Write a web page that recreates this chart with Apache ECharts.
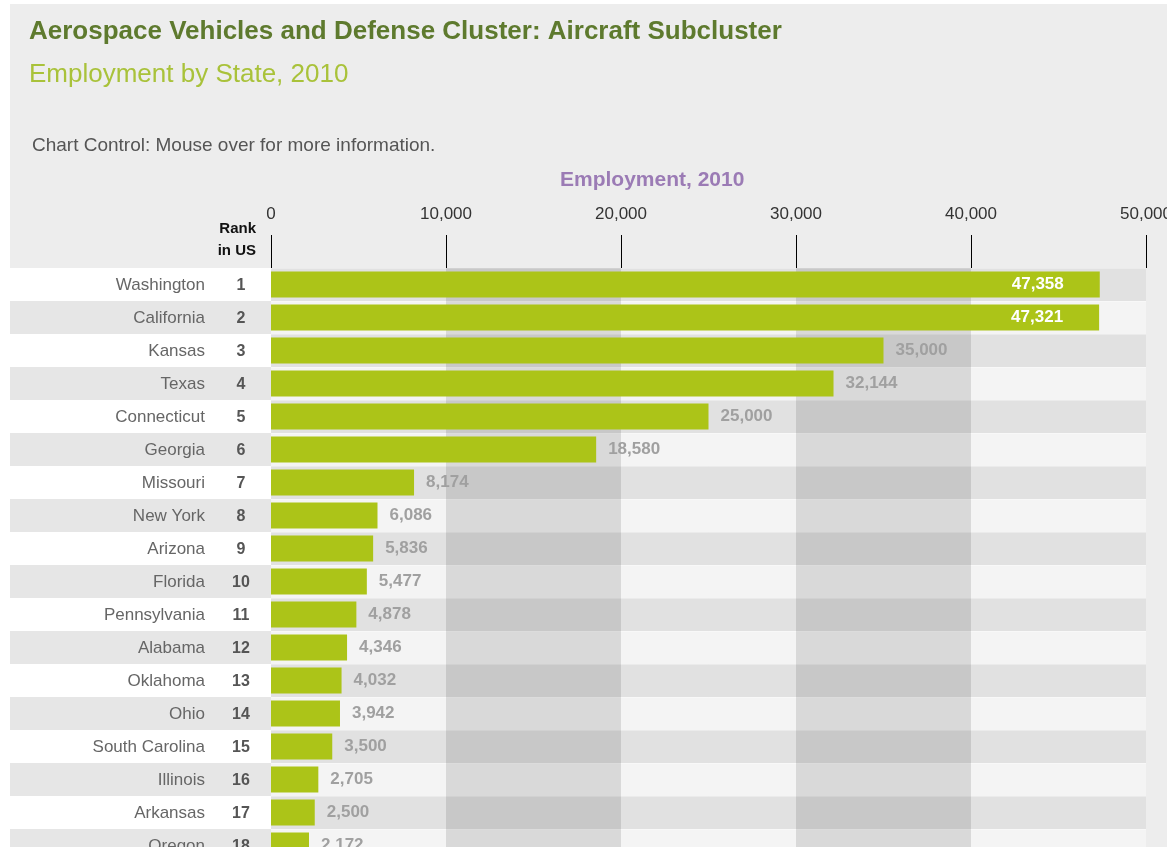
<!DOCTYPE html>
<html>
<head>
<meta charset="utf-8">
<title>Aircraft Subcluster Employment by State, 2010</title>
<script src="https://cdn.jsdelivr.net/npm/echarts@6/dist/echarts.min.js"></script>
<style>
  html, body { margin: 0; padding: 0; background: #ffffff; }
  #chart { width: 1167px; height: 847px; }
</style>
</head>
<body>
<div id="chart"></div>
<script>
// States ranked by aircraft subcluster employment, 2010
const states = [
  'Washington', 'California', 'Kansas', 'Texas', 'Connecticut', 'Georgia',
  'Missouri', 'New York', 'Arizona', 'Florida', 'Pennsylvania', 'Alabama',
  'Oklahoma', 'Ohio', 'South Carolina', 'Illinois', 'Arkansas', 'Oregon'
];
const ranks = [1, 2, 3, 4, 5, 6, 7, 8, 9, 10, 11, 12, 13, 14, 15, 16, 17, 18];
const employment = [
  47358, 47321, 35000, 32144, 25000, 18580,
  8174, 6086, 5836, 5477, 4878, 4346,
  4032, 3942, 3500, 2705, 2500, 2172
];
const axisTicks = [0, 10000, 20000, 30000, 40000, 50000];

const FONT = '"Liberation Sans", Arial, Helvetica, sans-serif';
const ROW_H = 33;
const TOP = 268;

function withCommas(n) {
  return String(n).replace(/\B(?=(\d{3})+(?!\d))/g, ',');
}

// Long bars carry their value inside the bar end, the rest just past it
const barData = employment.map(v => {
  const inside = v >= 40000;
  return {
    value: v,
    label: inside
      ? { position: 'insideRight', distance: 36, color: '#ffffff' }
      : { position: 'right', distance: 12, color: '#a0a0a0' }
  };
});

const chart = echarts.init(document.getElementById('chart'), null, { renderer: 'canvas' });

chart.setOption({
  animation: false,
  backgroundColor: '#ffffff',
  textStyle: { fontFamily: FONT },
  title: [
    {
      text: 'Aerospace Vehicles and Defense Cluster: Aircraft Subcluster',
      left: 24, top: 14,
      textStyle: { fontFamily: FONT, fontSize: 26, fontWeight: 'bold', color: '#5e7a2e' }
    },
    {
      text: 'Employment by State, 2010',
      left: 24, top: 57,
      textStyle: { fontFamily: FONT, fontSize: 26, fontWeight: 'normal', color: '#a9c23a' }
    },
    {
      text: 'Chart Control: Mouse over for more information.',
      left: 27, top: 131,
      textStyle: { fontFamily: FONT, fontSize: 19, fontWeight: 'normal', color: '#555555' }
    },
    {
      text: 'Employment, 2010',
      left: 555, top: 165,
      textStyle: { fontFamily: FONT, fontSize: 21, fontWeight: 'bold', color: '#9b7bb5' }
    }
  ],
  graphic: [
    {
      type: 'rect', z: -10, silent: true,
      shape: { x: 10, y: 4, width: 1157, height: 843 },
      style: { fill: '#ededed' }
    },
    {
      type: 'text', silent: true,
      x: 256, y: 218,
      style: {
        text: 'Rank\nin US',
        align: 'right',
        verticalAlign: 'top',
        lineHeight: 22,
        font: 'bold 15px ' + FONT,
        fill: '#111111'
      }
    }
  ],
  grid: [
    { left: 10, width: 261, top: TOP, height: ROW_H * states.length, containLabel: false, outerBoundsMode: 'none' },
    { left: 271, right: 21, top: TOP, height: ROW_H * states.length, containLabel: false, outerBoundsMode: 'none' }
  ],
  xAxis: [
    { gridIndex: 0, type: 'value', show: false, min: 0, max: 1 },
    {
      gridIndex: 1,
      type: 'value',
      position: 'top',
      min: axisTicks[0],
      max: axisTicks[axisTicks.length - 1],
      interval: axisTicks[1] - axisTicks[0],
      z: 1,
      axisLine: { show: false },
      axisTick: { show: true, length: 33, lineStyle: { color: '#000000', width: 1 } },
      axisLabel: {
        margin: 45,
        fontFamily: FONT,
        fontSize: 17,
        color: '#333333',
        formatter: v => withCommas(v)
      },
      splitLine: { show: false },
      splitArea: {
        show: true,
        areaStyle: { color: ['rgba(0,0,0,0)', 'rgba(0,0,0,0.11)'] }
      }
    }
  ],
  yAxis: [
    {
      gridIndex: 0,
      type: 'category',
      inverse: true,
      data: states,
      axisLine: { show: false },
      axisTick: { show: false },
      axisLabel: { show: false },
      splitArea: { show: true, areaStyle: { color: ['#ffffff', '#e6e6e6'] } }
    },
    {
      gridIndex: 1,
      type: 'category',
      inverse: true,
      data: states,
      axisLine: { show: false },
      axisTick: { show: false },
      axisLabel: {
        margin: 12,
        formatter: (value, idx) => '{name|' + value + '}{rank|' + ranks[idx] + '}',
        rich: {
          name: { fontFamily: FONT, fontSize: 17, color: '#666666', padding: [2, 18, 0, 0] },
          rank: { fontFamily: FONT, fontSize: 16, fontWeight: 'bold', color: '#555555', width: 36, align: 'center', padding: [2, 0, 0, 0] }
        }
      },
      splitLine: { show: true, lineStyle: { color: 'rgba(255,255,255,0.35)', width: 1 } },
      splitArea: { show: true, areaStyle: { color: ['#e1e1e1', '#f4f4f4'] } }
    }
  ],
  series: [
    {
      type: 'bar',
      xAxisIndex: 1,
      yAxisIndex: 1,
      barWidth: 26,
      data: barData,
      itemStyle: { color: '#acc418' },
      label: {
        show: true,
        fontFamily: FONT,
        fontSize: 17,
        fontWeight: 'bold',
        formatter: p => withCommas(p.value)
      }
    }
  ]
});
</script>
</body>
</html>
